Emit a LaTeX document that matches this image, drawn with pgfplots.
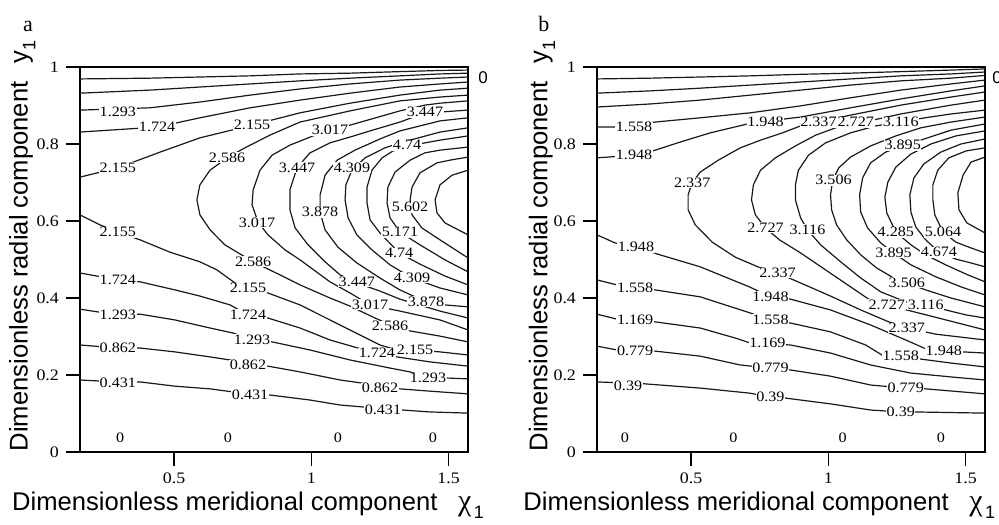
\documentclass[border=0pt]{standalone}
\usepackage{pgfplots}
\pgfplotsset{compat=1.18}
\usepackage{fontspec}
\setmainfont{Liberation Serif}
\newfontfamily\sansf{Liberation Sans}
\newfontfamily\lblf[FakeStretch=1.12]{Liberation Serif}
\newcommand\lbl{\lblf\fontsize{7.2}{8}\selectfont}
\newcommand\tlbl{\lblf\fontsize{8}{9}\selectfont}
\newcommand\axlbl{\sansf\fontsize{12.8}{14}\selectfont}
\pgfplotsset{
  panel/.style={
    scale only axis, width=194pt, height=192.5pt,
    xmin=0.157, xmax=1.571, ymin=0, ymax=1,
    clip mode=individual,
    xtick={0.5,1,1.5}, xticklabels={0.5,1,1.5},
    ytick={0,0.2,0.4,0.6,0.8,1}, yticklabels={0,0.2,0.4,0.6,0.8,1},
    tick align=outside, major tick length=7pt, tick pos=left,
    axis line style={line width=1pt},
    every tick/.style={black, line width=0.8pt},
    ticklabel style={font=\tlbl},
    xlabel style={font=\axlbl, anchor=base},
    ylabel style={font=\axlbl, anchor=center},
  },
  cl/.style={black!90, line width=0.6pt, mark=none},
}
\tikzset{
  lb/.style={font=\lbl, fill=white, inner sep=0.3pt},
  zl/.style={font=\lbl, inner sep=0pt},
}
\newcommand\xlab{Dimensionless meridional component\hspace{0.8em}{\rmfamily\fontsize{15}{15}\selectfont χ}\kern1.2pt\raisebox{-0.3em}{\fontsize{9}{9}\selectfont 1}}
\newcommand\ylab{Dimensionless radial component\hspace{0.7em}y\raisebox{-0.3em}{\fontsize{9}{9}\selectfont 1}}
\begin{document}
\begin{tikzpicture}
\useasboundingbox (0,0) rectangle (499.5pt,262pt);
% ---------------- panel a ----------------
\begin{axis}[panel, at={(40pt,36pt)}, anchor=south west,
  xlabel={\xlab},
  xlabel style={at={(axis description cs:0.433,-0.152)}},
  ylabel={\ylab},
  ylabel style={at={(axis description cs:-0.149,0.535)}},
]
% top lines
\addplot[cl] coordinates {(0.157,0.969) (0.412,0.971) (0.594,0.974) (0.777,0.977) (0.959,0.982) (1.141,0.984) (1.323,0.988) (1.469,0.991) (1.571,0.992)};
\addplot[cl] coordinates {(0.157,0.932) (0.412,0.940) (0.594,0.948) (0.777,0.956) (0.959,0.964) (1.141,0.971) (1.323,0.977) (1.469,0.982) (1.571,0.984)};
\addplot[cl] coordinates {(0.157,0.888) (0.412,0.894) (0.594,0.909) (0.777,0.927) (0.959,0.943) (1.141,0.956) (1.323,0.966) (1.469,0.971) (1.571,0.974)};
\addplot[cl] coordinates {(0.157,0.831) (0.438,0.844) (0.594,0.868) (0.777,0.894) (0.959,0.914) (1.141,0.932) (1.323,0.948) (1.469,0.956) (1.571,0.961)};
\addplot[cl] coordinates {(0.157,0.714) (0.295,0.738) (0.449,0.779) (0.594,0.816) (0.784,0.849) (0.959,0.881) (1.141,0.906) (1.323,0.927) (1.469,0.940) (1.571,0.945)};
% bottom lines
\addplot[cl] coordinates {(0.157,0.616) (0.230,0.590) (0.295,0.571) (0.376,0.551) (0.485,0.519) (0.594,0.494) (0.656,0.473) (0.722,0.439) (0.769,0.426) (0.842,0.413) (0.959,0.382) (1.068,0.343) (1.177,0.304) (1.250,0.278) (1.312,0.265) (1.378,0.265) (1.469,0.260) (1.571,0.252)};
\addplot[cl] coordinates {(0.157,0.465) (0.295,0.447) (0.376,0.442) (0.503,0.421) (0.594,0.405) (0.704,0.382) (0.769,0.356) (0.842,0.348) (0.959,0.322) (1.068,0.291) (1.170,0.270) (1.239,0.257) (1.312,0.247) (1.433,0.234) (1.571,0.223)};
\addplot[cl] coordinates {(0.157,0.371) (0.295,0.356) (0.376,0.358) (0.503,0.343) (0.631,0.322) (0.715,0.309) (0.784,0.291) (0.857,0.286) (0.995,0.265) (1.141,0.239) (1.287,0.218) (1.360,0.208) (1.425,0.192) (1.498,0.192) (1.571,0.190)};
\addplot[cl] coordinates {(0.157,0.278) (0.295,0.270) (0.376,0.270) (0.503,0.260) (0.631,0.247) (0.704,0.239) (0.769,0.226) (0.842,0.223) (0.959,0.208) (1.105,0.187) (1.185,0.179) (1.250,0.166) (1.323,0.164) (1.433,0.158) (1.571,0.151)};
\addplot[cl] coordinates {(0.157,0.187) (0.295,0.182) (0.376,0.182) (0.503,0.171) (0.631,0.164) (0.715,0.156) (0.777,0.148) (0.849,0.148) (0.995,0.135) (1.105,0.122) (1.188,0.117) (1.261,0.109) (1.334,0.109) (1.433,0.104) (1.571,0.101)};
% closed contours
\addplot[cl] coordinates {(1.571,0.927) (1.469,0.922) (1.323,0.912) (1.141,0.886) (0.959,0.857) (0.849,0.823) (0.758,0.790) (0.693,0.764) (0.631,0.732) (0.594,0.694) (0.583,0.655) (0.594,0.616) (0.631,0.577) (0.685,0.538) (0.788,0.494) (0.886,0.460) (0.959,0.434) (1.068,0.400) (1.141,0.379) (1.232,0.348) (1.323,0.319) (1.469,0.301) (1.571,0.286)};
\addplot[cl] coordinates {(1.571,0.912) (1.469,0.906) (1.414,0.901) (1.323,0.886) (1.141,0.849) (1.068,0.836) (1.006,0.821) (0.922,0.797) (0.857,0.771) (0.813,0.732) (0.788,0.681) (0.784,0.642) (0.806,0.597) (0.842,0.564) (0.904,0.525) (0.959,0.499) (1.068,0.442) (1.141,0.413) (1.214,0.382) (1.323,0.366) (1.469,0.343) (1.571,0.317)};
\addplot[cl] coordinates {(1.571,0.888) (1.469,0.883) (1.414,0.881) (1.323,0.857) (1.214,0.834) (1.141,0.818) (1.068,0.803) (0.995,0.777) (0.948,0.738) (0.922,0.681) (0.922,0.629) (0.941,0.582) (0.988,0.538) (1.050,0.494) (1.105,0.460) (1.166,0.439) (1.250,0.418) (1.323,0.397) (1.469,0.366) (1.571,0.348)};
\addplot[cl] coordinates {(1.571,0.868) (1.469,0.860) (1.323,0.834) (1.250,0.813) (1.159,0.784) (1.094,0.758) (1.050,0.719) (1.032,0.668) (1.032,0.623) (1.050,0.577) (1.097,0.532) (1.166,0.491) (1.250,0.452) (1.323,0.421) (1.418,0.390) (1.487,0.382) (1.571,0.377)};
\addplot[cl] coordinates {(1.571,0.842) (1.469,0.831) (1.323,0.803) (1.268,0.790) (1.196,0.764) (1.148,0.732) (1.126,0.694) (1.123,0.655) (1.134,0.608) (1.166,0.564) (1.221,0.525) (1.287,0.486) (1.367,0.452) (1.469,0.426) (1.571,0.408)};
\addplot[cl] coordinates {(1.571,0.821) (1.469,0.810) (1.352,0.795) (1.298,0.782) (1.258,0.764) (1.221,0.732) (1.203,0.688) (1.203,0.647) (1.214,0.603) (1.250,0.569) (1.320,0.517) (1.396,0.488) (1.487,0.457) (1.571,0.434)};
\addplot[cl] coordinates {(1.571,0.792) (1.469,0.784) (1.414,0.777) (1.360,0.758) (1.305,0.727) (1.279,0.688) (1.276,0.647) (1.287,0.608) (1.323,0.571) (1.396,0.538) (1.487,0.499) (1.571,0.468)};
\addplot[cl] coordinates {(1.571,0.766) (1.505,0.758) (1.458,0.751) (1.396,0.725) (1.367,0.688) (1.360,0.655) (1.367,0.616) (1.403,0.582) (1.469,0.551) (1.571,0.504)};
\addplot[cl] coordinates {(1.571,0.732) (1.513,0.719) (1.469,0.694) (1.451,0.655) (1.458,0.621) (1.487,0.595) (1.571,0.564)};
% labels
\node[lb] at (axis cs:0.295,0.883) {1.293};
\node[lb] at (axis cs:0.438,0.844) {1.724};
\node[lb] at (axis cs:0.295,0.738) {2.155};
\node[lb] at (axis cs:0.784,0.849) {2.155};
\node[lb] at (axis cs:0.693,0.764) {2.586};
\node[lb] at (axis cs:1.068,0.836) {3.017};
\node[lb] at (axis cs:1.414,0.883) {3.447};
\node[lb] at (axis cs:1.349,0.797) {4.74};
\node[lb] at (axis cs:0.948,0.738) {3.447};
\node[lb] at (axis cs:1.148,0.738) {4.309};
\node[lb] at (axis cs:1.032,0.623) {3.878};
\node[lb] at (axis cs:0.802,0.595) {3.017};
\node[lb] at (axis cs:1.360,0.636) {5.602};
\node[lb] at (axis cs:1.323,0.571) {5.171};
\node[lb] at (axis cs:1.320,0.517) {4.74};
\node[lb] at (axis cs:0.295,0.571) {2.155};
\node[lb] at (axis cs:0.788,0.494) {2.586};
\node[lb] at (axis cs:0.295,0.447) {1.724};
\node[lb] at (axis cs:0.769,0.426) {2.155};
\node[lb] at (axis cs:1.166,0.442) {3.447};
\node[lb] at (axis cs:1.367,0.452) {4.309};
\node[lb] at (axis cs:0.295,0.356) {1.293};
\node[lb] at (axis cs:0.769,0.356) {1.724};
\node[lb] at (axis cs:1.214,0.382) {3.017};
\node[lb] at (axis cs:1.418,0.390) {3.878};
\node[lb] at (axis cs:1.287,0.327) {2.586};
\node[lb] at (axis cs:0.784,0.291) {1.293};
\node[lb] at (axis cs:1.239,0.257) {1.724};
\node[lb] at (axis cs:1.378,0.265) {2.155};
\node[lb] at (axis cs:0.295,0.270) {0.862};
\node[lb] at (axis cs:0.769,0.226) {0.862};
\node[lb] at (axis cs:1.425,0.192) {1.293};
\node[lb] at (axis cs:1.250,0.166) {0.862};
\node[lb] at (axis cs:0.295,0.179) {0.431};
\node[lb] at (axis cs:0.777,0.148) {0.431};
\node[lb] at (axis cs:1.261,0.109) {0.431};
\node[zl] at (axis cs:0.303,0.036) {0};
\node[zl] at (axis cs:0.696,0.036) {0};
\node[zl] at (axis cs:1.097,0.036) {0};
\node[zl] at (axis cs:1.443,0.036) {0};
\node[font=\sansf\fontsize{8.5}{9}\selectfont, inner sep=0pt] at (axis description cs:1.039,0.973) {0};
\node[font=\rmfamily\fontsize{11}{12}\selectfont, inner sep=0pt] at (axis description cs:-0.134,1.106) {a};
\end{axis}
% ---------------- panel b ----------------
\begin{axis}[panel, at={(298.5pt,36pt)}, anchor=south west,
  xlabel={\xlab},
  xlabel style={at={(axis description cs:0.418,-0.152)}},
  ylabel={\ylab},
  ylabel style={at={(axis description cs:-0.142,0.535)}},
]
\addplot[cl] coordinates {(0.157,0.969) (0.351,0.971) (0.533,0.974) (0.716,0.977) (0.899,0.981) (1.081,0.984) (1.264,0.988) (1.447,0.992) (1.571,0.995)};
\addplot[cl] coordinates {(0.157,0.932) (0.351,0.938) (0.533,0.945) (0.716,0.953) (0.899,0.961) (1.081,0.969) (1.264,0.977) (1.447,0.982) (1.571,0.987)};
\addplot[cl] coordinates {(0.157,0.896) (0.351,0.904) (0.533,0.914) (0.716,0.927) (0.899,0.940) (1.081,0.953) (1.264,0.964) (1.447,0.971) (1.571,0.978)};
\addplot[cl] coordinates {(0.157,0.844) (0.219,0.844) (0.369,0.857) (0.533,0.868) (0.716,0.881) (0.899,0.899) (1.081,0.920) (1.264,0.940) (1.447,0.956) (1.571,0.966)};
\addplot[cl] coordinates {(0.157,0.764) (0.296,0.771) (0.369,0.784) (0.460,0.805) (0.570,0.829) (0.705,0.852) (0.840,0.865) (0.899,0.870) (1.081,0.894) (1.264,0.917) (1.447,0.938) (1.571,0.951)};
\addplot[cl] coordinates {(0.157,0.564) (0.223,0.543) (0.299,0.532) (0.387,0.512) (0.533,0.481) (0.712,0.429) (0.789,0.403) (0.862,0.397) (1.008,0.369) (1.154,0.330) (1.282,0.291) (1.355,0.268) (1.421,0.262) (1.491,0.260) (1.571,0.257)};
\addplot[cl] coordinates {(0.157,0.447) (0.230,0.434) (0.296,0.426) (0.369,0.421) (0.533,0.403) (0.716,0.361) (0.789,0.343) (0.862,0.335) (1.008,0.312) (1.136,0.278) (1.202,0.249) (1.330,0.242) (1.447,0.231) (1.571,0.221)};
\addplot[cl] coordinates {(0.157,0.358) (0.230,0.345) (0.296,0.343) (0.369,0.338) (0.533,0.322) (0.661,0.296) (0.716,0.283) (0.862,0.278) (1.008,0.257) (1.154,0.226) (1.301,0.205) (1.447,0.195) (1.571,0.187)};
\addplot[cl] coordinates {(0.157,0.275) (0.230,0.265) (0.296,0.262) (0.369,0.262) (0.533,0.249) (0.679,0.226) (0.789,0.218) (0.862,0.213) (1.008,0.197) (1.154,0.174) (1.282,0.166) (1.355,0.164) (1.571,0.151)};
\addplot[cl] coordinates {(0.157,0.182) (0.270,0.179) (0.332,0.177) (0.533,0.166) (0.712,0.153) (0.789,0.143) (0.844,0.140) (1.008,0.125) (1.154,0.109) (1.264,0.104) (1.319,0.104) (1.571,0.101)};
\addplot[cl] coordinates {(1.571,0.935) (1.447,0.922) (1.264,0.901) (1.081,0.875) (0.964,0.857) (0.899,0.847) (0.833,0.829) (0.753,0.810) (0.679,0.790) (0.599,0.758) (0.533,0.727) (0.504,0.699) (0.489,0.668) (0.489,0.629) (0.515,0.590) (0.577,0.545) (0.661,0.506) (0.753,0.478) (0.815,0.465) (0.899,0.439) (1.008,0.405) (1.118,0.369) (1.220,0.338) (1.286,0.322) (1.392,0.306) (1.571,0.291)};
\addplot[cl] coordinates {(1.571,0.914) (1.447,0.901) (1.264,0.878) (1.162,0.862) (1.100,0.855) (1.034,0.844) (0.954,0.823) (0.880,0.795) (0.807,0.764) (0.753,0.732) (0.727,0.694) (0.720,0.655) (0.734,0.616) (0.771,0.582) (0.822,0.551) (0.899,0.517) (0.990,0.473) (1.081,0.429) (1.147,0.397) (1.213,0.382) (1.374,0.353) (1.571,0.317)};
\addplot[cl] coordinates {(1.571,0.888) (1.447,0.878) (1.352,0.868) (1.264,0.857) (1.173,0.847) (1.081,0.829) (0.990,0.803) (0.928,0.771) (0.891,0.732) (0.880,0.694) (0.880,0.655) (0.899,0.608) (0.924,0.577) (0.972,0.538) (1.045,0.494) (1.118,0.452) (1.191,0.416) (1.282,0.390) (1.355,0.382) (1.428,0.369) (1.502,0.356) (1.571,0.348)};
\addplot[cl] coordinates {(1.571,0.870) (1.447,0.857) (1.337,0.842) (1.246,0.821) (1.154,0.795) (1.081,0.766) (1.038,0.738) (1.016,0.706) (1.008,0.668) (1.012,0.629) (1.030,0.590) (1.067,0.551) (1.118,0.512) (1.176,0.478) (1.238,0.452) (1.286,0.439) (1.355,0.421) (1.447,0.400) (1.571,0.377)};
\addplot[cl] coordinates {(1.571,0.852) (1.447,0.836) (1.337,0.810) (1.271,0.795) (1.209,0.779) (1.154,0.751) (1.125,0.712) (1.114,0.668) (1.118,0.623) (1.143,0.582) (1.191,0.543) (1.238,0.517) (1.301,0.486) (1.392,0.455) (1.483,0.429) (1.571,0.408)};
\addplot[cl] coordinates {(1.571,0.834) (1.465,0.821) (1.374,0.800) (1.301,0.774) (1.246,0.740) (1.217,0.701) (1.206,0.662) (1.213,0.621) (1.246,0.571) (1.301,0.538) (1.355,0.512) (1.428,0.486) (1.502,0.462) (1.571,0.442)};
\addplot[cl] coordinates {(1.571,0.813) (1.483,0.800) (1.410,0.779) (1.348,0.748) (1.312,0.712) (1.297,0.668) (1.301,0.623) (1.319,0.584) (1.355,0.551) (1.403,0.519) (1.465,0.501) (1.520,0.491) (1.571,0.481)};
\addplot[cl] coordinates {(1.571,0.790) (1.502,0.782) (1.439,0.764) (1.399,0.732) (1.381,0.694) (1.381,0.655) (1.388,0.616) (1.418,0.571) (1.465,0.545) (1.520,0.530) (1.571,0.517)};
\addplot[cl] coordinates {(1.571,0.766) (1.520,0.753) (1.491,0.719) (1.472,0.673) (1.476,0.629) (1.505,0.595) (1.571,0.569)};
\node[lb] at (axis cs:0.292,0.844) {1.558};
\node[lb] at (axis cs:0.292,0.771) {1.948};
\node[lb] at (axis cs:0.771,0.857) {1.948};
\node[lb] at (axis cs:0.964,0.857) {2.337};
\node[lb] at (axis cs:1.100,0.857) {2.727};
\node[lb] at (axis cs:1.264,0.857) {3.116};
\node[lb] at (axis cs:1.271,0.797) {3.895};
\node[lb] at (axis cs:0.504,0.699) {2.337};
\node[lb] at (axis cs:1.019,0.706) {3.506};
\node[lb] at (axis cs:0.771,0.582) {2.727};
\node[lb] at (axis cs:0.924,0.577) {3.116};
\node[lb] at (axis cs:1.246,0.571) {4.285};
\node[lb] at (axis cs:1.418,0.571) {5.064};
\node[lb] at (axis cs:1.238,0.517) {3.895};
\node[lb] at (axis cs:1.403,0.519) {4.674};
\node[lb] at (axis cs:0.299,0.532) {1.948};
\node[lb] at (axis cs:0.815,0.465) {2.337};
\node[lb] at (axis cs:1.286,0.439) {3.506};
\node[lb] at (axis cs:0.296,0.426) {1.558};
\node[lb] at (axis cs:0.789,0.403) {1.948};
\node[lb] at (axis cs:1.213,0.382) {2.727};
\node[lb] at (axis cs:1.355,0.382) {3.116};
\node[lb] at (axis cs:0.296,0.343) {1.169};
\node[lb] at (axis cs:0.789,0.343) {1.558};
\node[lb] at (axis cs:1.286,0.322) {2.337};
\node[lb] at (axis cs:0.778,0.283) {1.169};
\node[lb] at (axis cs:1.264,0.249) {1.558};
\node[lb] at (axis cs:1.421,0.262) {1.948};
\node[lb] at (axis cs:0.296,0.262) {0.779};
\node[lb] at (axis cs:0.789,0.218) {0.779};
\node[lb] at (axis cs:1.282,0.166) {0.779};
\node[lb] at (axis cs:0.270,0.171) {0.39};
\node[lb] at (axis cs:0.789,0.143) {0.39};
\node[lb] at (axis cs:1.264,0.104) {0.39};
\node[zl] at (axis cs:0.259,0.036) {0};
\node[zl] at (axis cs:0.654,0.036) {0};
\node[zl] at (axis cs:1.052,0.036) {0};
\node[zl] at (axis cs:1.410,0.036) {0};
\node[font=\sansf\fontsize{8.5}{9}\selectfont, inner sep=0pt] at (axis description cs:1.031,0.973) {0};
\node[font=\rmfamily\fontsize{11}{12}\selectfont, inner sep=0pt] at (axis description cs:-0.137,1.112) {b};
\end{axis}
\end{tikzpicture}
\end{document}
